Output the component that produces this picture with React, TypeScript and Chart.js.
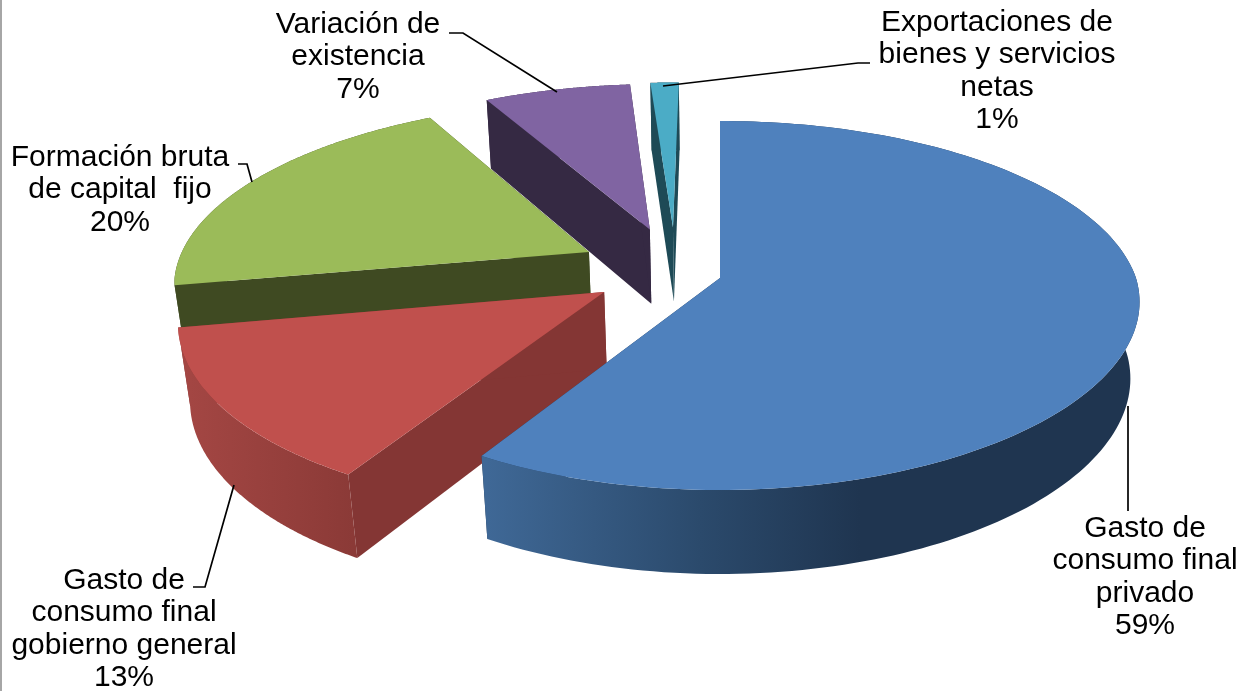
import React, { useEffect, useRef } from "react";
import { Chart, registerables } from "chart.js";

Chart.register(...registerables);

const categories = [
  "Gasto de consumo final privado",
  "Gasto de consumo final gobierno general",
  "Formación bruta de capital fijo",
  "Variación de existencia",
  "Exportaciones de bienes y servicios netas",
];
const values = [58.5, 13.5, 20, 6.7, 1.3];
const percentLabels = ["59%", "13%", "20%", "7%", "1%"];
const labelLines = [
  ["Gasto de", "consumo final", "privado"],
  ["Gasto de", "consumo final", "gobierno general"],
  ["Formación bruta", "de capital  fijo"],
  ["Variación de", "existencia"],
  ["Exportaciones de", "bienes y servicios", "netas"],
];

// Appearance and layout
const topColors = ["#4F81BD", "#C0504D", "#9BBB59", "#8064A2", "#4BACC6"];
const cutColors = ["#1F3550", "#843634", "#3F4A22", "#352943", "#1E4A56"];
const outerStops: [number, string][][] = [
  [[487, "#3F6896"], [700, "#2B4A6C"], [860, "#1F3550"], [1143, "#1F3550"]],
  [[176, "#A54744"], [353, "#8B3A37"]],
  [[176, "#3F4A22"], [428, "#3F4A22"]],
  [[488, "#352943"], [630, "#352943"]],
  [[650, "#1E4A56"], [680, "#1E4A56"]],
];
const explodeX = [0, -0.2757, -0.322, -0.1757, -0.118];
const explodeY = [0, -0.0767, 0.1473, 0.2801, 0.2933];
const labelCenterX = [1145, 124, 120, 358, 997];
const labelFirstBaseline = [537, 589, 166, 33, 31];
const leaders = [
  [[1128, 406], [1128, 511]],
  [[234, 485], [205, 587], [193, 587]],
  [[252, 182], [247, 164], [238, 164]],
  [[557, 92], [463, 33], [449, 33]],
  [[663, 86], [858, 63], [870, 63]],
];
const PROJ = { x0: 720, y0: 278, a: 416, b: 180.4, c: 0.149, cNearX: 0.13, g: 0.022, depth: 78 };

const xDen = (Y: number) => 1 + (Y < 0 ? PROJ.cNearX : PROJ.c) * Y;
const topPoint = (X: number, Y: number) => [
  PROJ.x0 + (PROJ.a * X) / xDen(Y),
  PROJ.y0 - (PROJ.b * Y) / (1 + PROJ.c * Y),
];
const bottomPoint = (X: number, Y: number) => [
  PROJ.x0 + (PROJ.a * X) / (xDen(Y) + PROJ.g),
  PROJ.y0 + (PROJ.depth - PROJ.b * Y) / (1 + PROJ.c * Y + PROJ.g),
];
const pathOf = (ctx: CanvasRenderingContext2D, pts: number[][]) => {
  ctx.beginPath();
  pts.forEach((p, i) => (i ? ctx.lineTo(p[0], p[1]) : ctx.moveTo(p[0], p[1])));
  ctx.closePath();
};

const piePlugin = {
  id: "pie3d",
  beforeDatasetsDraw(chart: any) {
    const ctx: CanvasRenderingContext2D = chart.ctx;
    const arcs = chart.getDatasetMeta(0).data;
    ctx.save();
    ctx.fillStyle = "#A6A6A6";
    ctx.fillRect(0, 0, 2, chart.height);
    for (let i = arcs.length - 1; i >= 0; i--) {
      const { startAngle, endAngle } = arcs[i];
      const ox = explodeX[i];
      const oy = explodeY[i];
      const rim: number[][] = [];
      const steps = 160;
      for (let s = 0; s <= steps; s++) {
        const t = startAngle + ((endAngle - startAngle) * s) / steps;
        rim.push([ox + Math.cos(t), oy - Math.sin(t)]);
      }
      const rimTop = rim.map((p) => topPoint(p[0], p[1]));
      const rimBottom = rim.map((p) => bottomPoint(p[0], p[1]));
      const apexTop = topPoint(ox, oy);
      const apexBottom = bottomPoint(ox, oy);

      ctx.fillStyle = cutColors[i];
      pathOf(ctx, [apexTop, rimTop[0], rimBottom[0], apexBottom]);
      ctx.fill();
      pathOf(ctx, [apexTop, rimTop[steps], rimBottom[steps], apexBottom]);
      ctx.fill();

      const stops = outerStops[i];
      const grad = ctx.createLinearGradient(stops[0][0], 0, stops[stops.length - 1][0], 0);
      const span = stops[stops.length - 1][0] - stops[0][0];
      stops.forEach(([x, c]) => grad.addColorStop((x - stops[0][0]) / span, c));
      ctx.fillStyle = grad;
      pathOf(ctx, [...rimTop, ...rimBottom.slice().reverse()]);
      ctx.fill();

      ctx.fillStyle = topColors[i];
      pathOf(ctx, [apexTop, ...rimTop]);
      ctx.fill();
    }
    ctx.restore();
    return false;
  },
  afterDraw(chart: any) {
    const ctx: CanvasRenderingContext2D = chart.ctx;
    ctx.save();
    ctx.strokeStyle = "#000";
    ctx.lineWidth = 1.7;
    leaders.forEach((l) => {
      ctx.beginPath();
      l.forEach((p, i) => (i ? ctx.lineTo(p[0], p[1]) : ctx.moveTo(p[0], p[1])));
      ctx.stroke();
    });
    ctx.fillStyle = "#000";
    ctx.font = "30px 'Liberation Sans'";
    ctx.textAlign = "center";
    ctx.textBaseline = "alphabetic";
    labelLines.forEach((lines, i) => {
      [...lines, percentLabels[i]].forEach((line, j) => {
        ctx.fillText(line, labelCenterX[i], labelFirstBaseline[i] + j * 32.3);
      });
    });
    ctx.restore();
  },
};

export default function App() {
  const ref = useRef<HTMLCanvasElement>(null);
  useEffect(() => {
    const chart = new Chart(ref.current!, {
      type: "pie",
      data: {
        labels: categories,
        datasets: [{ data: values, backgroundColor: topColors, borderWidth: 0 }],
      },
      options: {
        animation: false,
        responsive: false,
        plugins: { legend: { display: false }, tooltip: { enabled: false } },
      },
      plugins: [piePlugin],
    } as any);
    return () => chart.destroy();
  }, []);
  return (
    <canvas
      ref={ref}
      width={1247}
      height={691}
      style={{ position: "fixed", left: 0, top: 0, width: 1247, height: 691, display: "block" }}
    />
  );
}
